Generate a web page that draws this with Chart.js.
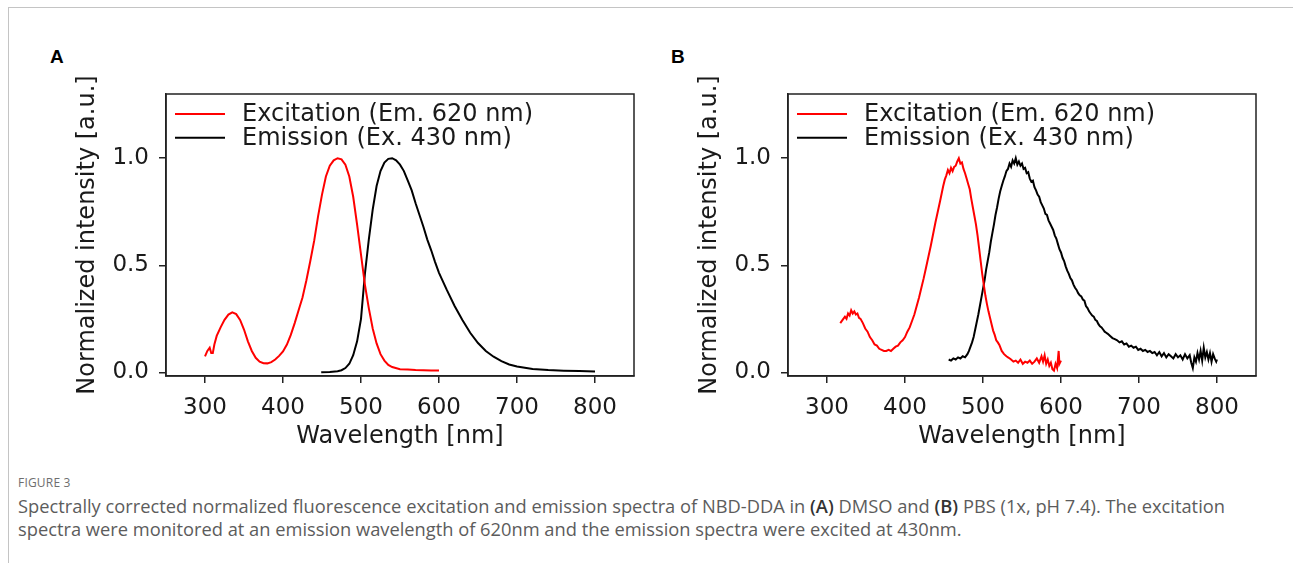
<!DOCTYPE html>
<html>
<head>
<meta charset="utf-8">
<script src="https://cdn.jsdelivr.net/npm/chart.js@4"></script>
<style>
  body { margin: 0; background: #fff; }
  #page { position: relative; width: 1293px; height: 563px; overflow: hidden; background: #fff; }
  .frame-top { position: absolute; left: 8px; top: 7px; width: 1285px; height: 1px; background: #c4c4c4; }
  .frame-left { position: absolute; left: 8px; top: 7px; width: 1px; height: 556px; background: #c4c4c4; }
  .panel-label { position: absolute; top: 46px; font: bold 19px "Liberation Sans", Arial, sans-serif; color: #000; }
  canvas { position: absolute; }
  .fig-no { position: absolute; left: 18px; top: 474px; font: 12px "Open Sans", sans-serif; color: #6e6e6e; letter-spacing: 0.2px; }
  .caption { position: absolute; left: 18px; top: 494px; font: 18.3px/23px "Open Sans", sans-serif; color: #5c5c5c; white-space: nowrap; }
  .caption b { color: #333; font-weight: 600; }
</style>
</head>
<body>
<div id="page">
  <div class="frame-top"></div>
  <div class="frame-left"></div>
  <div class="panel-label" style="left:50px">A</div>
  <div class="panel-label" style="left:671px">B</div>
  <canvas id="chartA" width="610" height="396" style="left:40px; top:64px"></canvas>
  <canvas id="chartB" width="610" height="396" style="left:662px; top:64px"></canvas>
  <div class="fig-no">FIGURE 3</div>
  <div class="caption">Spectrally corrected normalized fluorescence excitation and emission spectra of NBD-DDA in <b>(A)</b> DMSO and <b>(B)</b> PBS (1x, pH 7.4). The excitation<br>spectra were monitored at an emission wavelength of 620nm and the emission spectra were excited at 430nm.</div>
</div>
<script>
// tick labels
const xTicks = [300, 400, 500, 600, 700, 800];
const yTicks = [0.0, 0.5, 1.0];
const seriesNames = ['Excitation (Em. 620 nm)', 'Emission (Ex. 430 nm)'];

// panel A (DMSO) - excitation
const exA_nm  = [300,303,306,308,310,312,315,320,325,330,335,340,345,350,355,360,365,370,375,380,385,390,395,400,405,410,415,420,425,430,435,440,445,450,455,460,465,470,475,480,485,490,495,500,505,510,515,520,525,530,535,540,550,560,570,580,590,600];
const exA_int = [0.075,0.10,0.115,0.09,0.09,0.13,0.17,0.21,0.245,0.27,0.28,0.272,0.245,0.20,0.145,0.10,0.068,0.05,0.043,0.042,0.048,0.06,0.077,0.098,0.13,0.175,0.23,0.29,0.35,0.43,0.52,0.615,0.73,0.83,0.915,0.965,0.99,1.0,0.995,0.97,0.915,0.82,0.69,0.55,0.41,0.30,0.205,0.135,0.085,0.055,0.035,0.025,0.015,0.013,0.011,0.01,0.009,0.009];

// panel A (DMSO) - emission
const emA_nm  = [449,460,470,475,480,485,490,495,500,505,510,515,520,525,530,535,540,545,550,555,560,565,570,575,580,585,590,595,600,610,620,630,640,650,660,670,680,690,700,720,740,760,780,800];
const emA_int = [0.0,0.002,0.005,0.01,0.02,0.04,0.08,0.145,0.25,0.46,0.62,0.76,0.87,0.94,0.98,0.997,1.0,0.99,0.97,0.94,0.895,0.85,0.79,0.735,0.68,0.62,0.57,0.515,0.465,0.385,0.31,0.245,0.185,0.137,0.10,0.073,0.052,0.037,0.027,0.016,0.011,0.008,0.006,0.004];

// panel B (PBS) - excitation
const exB_nm  = [317,320,323,325,327,329,331,333,335,337,339,341,343,346,349,352,355,358,361,364,367,370,373,376,379,382,385,388,391,394,397,400,403,406,409,412,415,418,421,424,427,430,433,436,439,442,445,447,449,451,453,455,457,459,461,463,465,467,469,471,473,475,477,479,481,483,485,487,489,491,493,495,497,499,501,503,505,507,509,511,513,515,517,519,521,524,527,530,533,536,539,542,545,548,551,554,557,560,563,566,569,572,575,577,579,581,583,585,587,589,591,593,595,597,598,600];
const exB_int = [0.23,0.245,0.26,0.25,0.275,0.265,0.29,0.275,0.285,0.27,0.275,0.255,0.25,0.23,0.205,0.19,0.165,0.15,0.13,0.125,0.11,0.105,0.10,0.10,0.105,0.10,0.11,0.12,0.125,0.14,0.15,0.165,0.19,0.21,0.24,0.27,0.31,0.35,0.395,0.44,0.49,0.54,0.59,0.645,0.70,0.75,0.80,0.835,0.87,0.90,0.92,0.945,0.93,0.955,0.94,0.96,0.965,0.985,1.0,0.975,0.98,0.95,0.93,0.905,0.88,0.855,0.81,0.77,0.73,0.69,0.64,0.58,0.52,0.46,0.41,0.36,0.32,0.285,0.255,0.225,0.195,0.175,0.15,0.14,0.128,0.10,0.085,0.075,0.068,0.06,0.05,0.055,0.045,0.06,0.04,0.05,0.045,0.055,0.04,0.05,0.065,0.045,0.075,0.05,0.08,0.04,0.06,0.03,0.045,0.015,0.008,0.04,0.02,0.10,0.04,0.055];

// panel B (PBS) - emission
const emB_nm  = [456,459,462,465,468,471,474,477,480,482,484,486,488,490,492,494,496,498,500,502,504,506,508,510,512,514,516,518,520,522,524,526,528,530,532,534,536,538,540,542,544,546,548,550,552,554,556,558,560,562,564,566,568,570,572,574,576,578,580,582,584,586,588,590,592,594,596,598,600,602,604,606,608,610,612,614,616,618,620,622,624,626,628,630,632,634,636,638,640,642,644,646,648,650,652,654,656,658,660,663,666,669,672,675,678,681,684,687,690,693,696,699,702,705,708,711,714,717,720,723,726,729,732,735,738,741,744,747,750,753,756,759,762,765,767,769,771,773,775,777,779,781,783,785,787,789,791,793,795,797,799,800];
const emB_int = [0.06,0.055,0.065,0.06,0.07,0.065,0.075,0.07,0.085,0.10,0.12,0.14,0.165,0.20,0.235,0.27,0.31,0.35,0.39,0.43,0.48,0.52,0.56,0.61,0.65,0.69,0.735,0.77,0.81,0.845,0.87,0.895,0.915,0.94,0.95,0.975,0.96,0.99,0.975,1.0,0.97,0.985,0.965,0.975,0.95,0.955,0.93,0.935,0.905,0.89,0.895,0.865,0.85,0.83,0.82,0.795,0.78,0.765,0.74,0.735,0.71,0.695,0.68,0.665,0.64,0.625,0.60,0.575,0.56,0.535,0.52,0.495,0.475,0.46,0.44,0.43,0.41,0.395,0.385,0.37,0.36,0.355,0.34,0.335,0.31,0.30,0.285,0.275,0.265,0.26,0.245,0.24,0.225,0.215,0.21,0.20,0.19,0.185,0.18,0.17,0.16,0.155,0.15,0.14,0.145,0.13,0.135,0.12,0.125,0.115,0.12,0.105,0.11,0.10,0.105,0.095,0.10,0.09,0.095,0.08,0.095,0.075,0.09,0.07,0.085,0.075,0.065,0.085,0.07,0.08,0.06,0.085,0.065,0.08,0.045,0.02,0.07,0.05,0.09,0.06,0.10,0.055,0.115,0.07,0.095,0.06,0.09,0.05,0.085,0.065,0.05,0.06];

const fontFamily = '"DejaVu Sans", Verdana, sans-serif';
const textColor = '#1a1a1a';
const axisColor = '#222';

function pts(nm, val){ return nm.map((x, i) => ({x, y: val[i]})); }

// full box around the plot area
const frame = {
  id: 'frame',
  afterDatasetsDraw(chart){
    const a = chart.chartArea, ctx = chart.ctx;
    ctx.save();
    ctx.strokeStyle = axisColor; ctx.lineWidth = 1.5;
    ctx.strokeRect(a.left, a.top, a.right - a.left, a.bottom - a.top);
    ctx.restore();
  }
};

// legend drawn inside the plot, top left, no frame
const insideLegend = {
  id: 'insideLegend',
  afterDraw(chart){
    const a = chart.chartArea, ctx = chart.ctx;
    ctx.save();
    ctx.font = '24px ' + fontFamily;
    ctx.textBaseline = 'middle';
    chart.data.datasets.forEach((ds, i) => {
      const x = a.left + 9, y = a.top + 20 + i * 23.7;
      ctx.strokeStyle = ds.borderColor; ctx.lineWidth = 2;
      ctx.beginPath(); ctx.moveTo(x, y); ctx.lineTo(x + 50, y); ctx.stroke();
      ctx.fillStyle = textColor;
      ctx.fillText(ds.label, x + 67, y + 1);
    });
    ctx.restore();
  }
};

function makeChart(id, ex, em){
  return new Chart(document.getElementById(id), {
    type: 'line',
    data: {
      datasets: [
        {label: seriesNames[0], data: ex, borderColor: '#ff0000', borderWidth: 2, pointRadius: 0, tension: 0},
        {label: seriesNames[1], data: em, borderColor: '#000000', borderWidth: 2, pointRadius: 0, tension: 0}
      ]
    },
    options: {
      responsive: false,
      animation: false,
      devicePixelRatio: 1,
      layout: {padding: {top: 30, right: 16, bottom: 0, left: 0}},
      plugins: {legend: {display: false}, tooltip: {enabled: false}},
      scales: {
        x: {
          type: 'linear', min: 250, max: 850,
          afterBuildTicks: s => { s.ticks = xTicks.map(v => ({value: v})); },
          afterFit: s => { s.height = 84; },
          grid: {display: true, drawOnChartArea: false, drawTicks: true, tickLength: 7, color: axisColor, lineWidth: 1.5},
          border: {display: true, color: axisColor, width: 1.5},
          ticks: {font: {family: fontFamily, size: 23}, color: textColor, padding: 11, maxRotation: 0, autoSkip: false},
          title: {display: true, text: 'Wavelength [nm]', font: {family: fontFamily, size: 24}, color: textColor, padding: {top: 0, bottom: 8.6}}
        },
        y: {
          type: 'linear', min: -0.017, max: 1.3,
          afterBuildTicks: s => { s.ticks = yTicks.map(v => ({value: v})); },
          afterFit: s => { s.width = 126; },
          grid: {display: true, drawOnChartArea: false, drawTicks: true, tickLength: 7, color: axisColor, lineWidth: 1.5},
          border: {display: true, color: axisColor, width: 1.5},
          ticks: {font: {family: fontFamily, size: 23}, color: textColor, padding: 10, callback: v => v.toFixed(1)},
          title: {display: true, text: 'Normalized intensity [a.u.]', font: {family: fontFamily, size: 24}, color: textColor, padding: {top: 33.6, bottom: 0}}
        }
      }
    },
    plugins: [frame, insideLegend]
  });
}

makeChart('chartA', pts(exA_nm, exA_int), pts(emA_nm, emA_int));
makeChart('chartB', pts(exB_nm, exB_int), pts(emB_nm, emB_int));
</script>
</body>
</html>
